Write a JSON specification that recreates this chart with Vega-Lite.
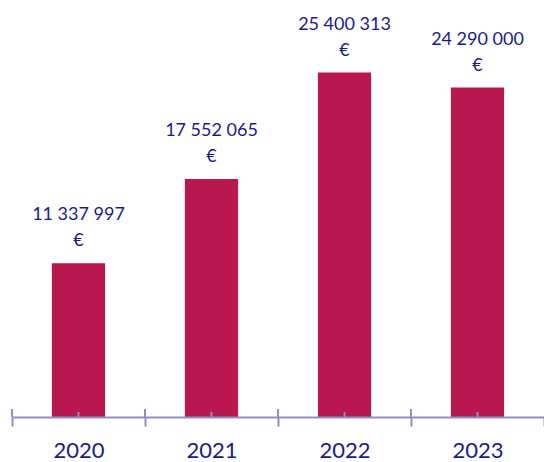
{
  "$schema": "https://vega.github.io/schema/vega-lite/v6.json",
  "width": 532,
  "height": 417,
  "autosize": {"type": "none"},
  "padding": {"left": 12, "top": 0, "right": 0, "bottom": 45},
  "background": "white",
  "config": {
    "view": {"stroke": null},
    "locale": {"number": {"decimal": ",", "thousands": " ", "grouping": [3], "currency": ["", " €"]}}
  },
  "data": {"values": [
    {"year": "2020", "value": 11337997},
    {"year": "2021", "value": 17552065},
    {"year": "2022", "value": 25400313},
    {"year": "2023", "value": 24290000}
  ]},
  "encoding": {
    "x": {
      "field": "year", "type": "ordinal",
      "scale": {"paddingInner": 0, "paddingOuter": 0},
      "axis": {
        "title": null, "tickBand": "extent", "tickExtra": false, "tickSize": 9, "tickWidth": 2,
        "tickColor": "#8F8FC4", "domainColor": "#8F8FC4", "domainWidth": 2,
        "labelAngle": 0, "labelFont": "Lato", "labelFontSize": 22, "labelColor": "#1A1A8E",
        "labelPadding": 31, "labelBaseline": "alphabetic", "zindex": 1
      }
    }
  },
  "layer": [
    {
      "mark": {"type": "bar", "width": {"band": 0.4}, "color": "#B8174F"},
      "encoding": {
        "y": {"field": "value", "type": "quantitative", "scale": {"domain": [0, 30750000], "nice": false, "zero": true}, "axis": null}
      }
    },
    {
      "mark": {"type": "text", "font": "Lato", "fontSize": 18, "color": "#1A1A8E", "baseline": "alphabetic", "dy": -43},
      "encoding": {
        "y": {"field": "value", "type": "quantitative"},
        "text": {"field": "value", "type": "quantitative", "format": ",d"}
      }
    },
    {
      "mark": {"type": "text", "font": "Lato", "fontSize": 18, "color": "#1A1A8E", "baseline": "alphabetic", "dy": -17},
      "encoding": {
        "y": {"field": "value", "type": "quantitative"},
        "text": {"value": "€"}
      }
    },
    {
      "mark": {"type": "rule", "color": "#8F8FC4", "strokeWidth": 2},
      "encoding": {
        "x": {"field": "year", "type": "ordinal", "bandPosition": 0},
        "y": {"datum": 0, "type": "quantitative"},
        "y2": {"datum": 590000}
      }
    },
    {
      "mark": {"type": "rule", "color": "#8F8FC4", "strokeWidth": 2},
      "encoding": {
        "x": {"field": "year", "type": "ordinal", "bandPosition": 0.5},
        "y": {"datum": 0, "type": "quantitative"},
        "y2": {"datum": 370000}
      }
    }
  ]
}
